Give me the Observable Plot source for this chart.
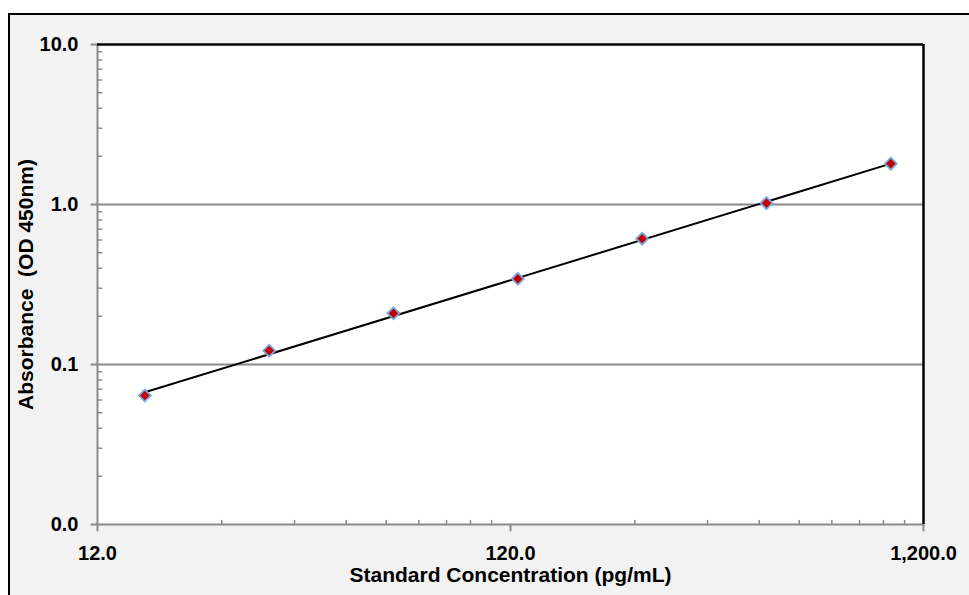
<!DOCTYPE html>
<html><head><meta charset="utf-8">
<script src="https://cdn.jsdelivr.net/npm/d3@7"></script>
<script src="https://cdn.jsdelivr.net/npm/@observablehq/plot@0.6"></script>
<style>
html,body{margin:0;padding:0;background:#fff;}
#wrap{position:relative;width:969px;height:595px;overflow:hidden;}
#bg{position:absolute;left:8px;top:13px;width:990px;height:620px;background:#f2f2f2;border-left:2.5px solid #000;border-top:2.5px solid #000;}
#chart{position:absolute;left:0;top:0;}
</style></head><body>
<div id="wrap"><div id="bg"></div><div id="chart"></div></div>
<script>
// Standards
const conc = [15.625, 31.25, 62.5, 125, 250, 500, 1000];
const od = [0.064, 0.122, 0.209, 0.343, 0.611, 1.02, 1.80];
// Power trendline endpoints
const trendConc = [15.625, 1000];
const trendOd = [0.067, 1.80];
// Ticks
const xMajor = [12, 120, 1200];
const xMinor = [24, 36, 48, 60, 72, 84, 96, 108, 240, 360, 480, 600, 720, 840, 960, 1080];
const yMajor = [0.01, 0.1, 1, 10];
const yMinor = [0.02,0.03,0.04,0.05,0.06,0.07,0.08,0.09,0.2,0.3,0.4,0.5,0.6,0.7,0.8,0.9,2,3,4,5,6,7,8,9];
const yGrid = [0.1, 1];
const xTitle = "Standard Concentration (pg/mL)";
const yTitle = "Absorbance  (OD 450nm)";

const points = conc.map((c, i) => ({c, v: od[i]}));
const trend = trendConc.map((c, i) => ({c, v: trendOd[i]}));
const gray = "#8a8a8a";
const font = "'Liberation Sans', Arial, sans-serif";
const fy = d3.format(".1f");
const fx = d3.format(",.1f");

const chart = Plot.plot({
  width: 969, height: 595,
  marginLeft: 97, marginRight: 46, marginTop: 44, marginBottom: 71,
  style: {background: "transparent", fontFamily: font},
  x: {type: "log", domain: [12, 1200], axis: null},
  y: {type: "log", domain: [0.01, 10], axis: null},
  marks: [
    Plot.frame({fill: "white", stroke: null}),
    Plot.ruleY(yGrid, {stroke: gray, strokeWidth: 2}),
    Plot.vector(yMinor, {y: d => d, frameAnchor: "left", length: 4, rotate: 90, anchor: "start", r: 0, stroke: gray, strokeWidth: 1.5}),
    Plot.vector(xMinor, {x: d => d, frameAnchor: "bottom", length: 4, rotate: 0, anchor: "start", r: 0, stroke: gray, strokeWidth: 1.5}),
    Plot.vector(yMajor, {y: d => d, frameAnchor: "left", length: 6, rotate: -90, anchor: "start", r: 0, stroke: gray, strokeWidth: 2}),
    Plot.vector(xMajor, {x: d => d, frameAnchor: "bottom", length: 6, rotate: 180, anchor: "start", r: 0, stroke: gray, strokeWidth: 2}),
    Plot.ruleX([12], {stroke: gray, strokeWidth: 2}),
    Plot.ruleY([0.01], {stroke: gray, strokeWidth: 2}),
    Plot.ruleY([10], {stroke: "black", strokeWidth: 2.5}),
    Plot.ruleX([1200], {stroke: "black", strokeWidth: 2.5}),
    Plot.text(yMajor, {y: d => d, text: d => fy(d), frameAnchor: "left", dx: -19, textAnchor: "end", fontSize: 20, fontWeight: "bold", fill: "black"}),
    Plot.text(xMajor, {x: d => d, text: d => fx(d), frameAnchor: "bottom", dy: 21, lineAnchor: "top", fontSize: 20, fontWeight: "bold", fill: "black"}),
    Plot.line(trend, {x: "c", y: "v", stroke: "black", strokeWidth: 2}),
    Plot.dot(points, {x: "c", y: "v", symbol: "diamond2", r: 5.4, fill: "#c00000", stroke: "#7aa7de", strokeWidth: 1.8}),
    Plot.text([xTitle], {text: d => d, frameAnchor: "bottom", dy: 51, lineAnchor: "middle", fontSize: 21, fontWeight: "bold", fill: "black"}),
    Plot.text([yTitle], {text: d => d, frameAnchor: "left", dx: -71, rotate: -90, textAnchor: "middle", lineAnchor: "middle", fontSize: 21, fontWeight: "bold", fill: "black"})
  ]
});
document.getElementById("chart").appendChild(chart);
</script>
</body></html>
